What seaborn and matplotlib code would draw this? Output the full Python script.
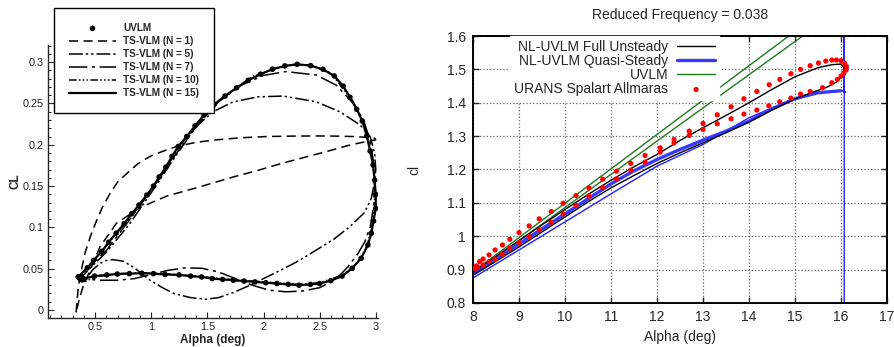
import matplotlib
matplotlib.use("Agg")
import numpy as np
import pandas as pd
import matplotlib.pyplot as plt
from matplotlib.ticker import MultipleLocator, FuncFormatter
import seaborn as sns

# ------------------------------------------------------------
# left panel : CL vs alpha, UVLM vs TS-VLM harmonics
# ------------------------------------------------------------
uvlm_a = [0.35, 0.43, 0.485, 0.56, 0.62, 0.687, 0.758, 0.826, 0.89, 0.96, 1.02, 1.07,
          1.13, 1.185, 1.24, 1.316, 1.39, 1.47, 1.56, 1.657, 1.76, 1.864, 1.974, 2.08,
          2.19, 2.30, 2.42, 2.53, 2.63, 2.71, 2.77, 2.83, 2.88, 2.92, 2.95, 2.976, 2.99,
          3.0, 3.0, 2.98, 2.96, 2.93, 2.87, 2.79, 2.70, 2.60, 2.50, 2.418, 2.316, 2.22,
          2.12, 2.02, 1.924, 1.826, 1.731, 1.636, 1.544, 1.449, 1.351, 1.247, 1.123,
          1.019, 0.915, 0.805, 0.698, 0.604, 0.494, 0.396, 0.35]
uvlm_cl = [0.040, 0.051, 0.060, 0.071, 0.082, 0.093, 0.1045, 0.1166, 0.127, 0.139, 0.150,
           0.161, 0.173, 0.186, 0.198, 0.210, 0.223, 0.236, 0.249, 0.259, 0.269, 0.278,
           0.2855, 0.2915, 0.2955, 0.2975, 0.2958, 0.2914, 0.2833, 0.271, 0.2575, 0.243,
           0.2288, 0.211, 0.1925, 0.1755, 0.157, 0.140, 0.123, 0.1077, 0.0928, 0.0787,
           0.0626, 0.0505, 0.041, 0.0355, 0.032, 0.031, 0.030, 0.031, 0.032, 0.033, 0.034,
           0.035, 0.036, 0.037, 0.038, 0.040, 0.041, 0.0425, 0.043, 0.044, 0.0445, 0.044,
           0.0435, 0.0425, 0.041, 0.038, 0.040]

n1_a = [0.33, 0.35, 0.38, 0.41, 0.46, 0.515, 0.57, 0.633, 0.70, 0.78, 0.88, 0.99, 1.10,
        1.227, 1.40, 1.58, 1.80, 2.03, 2.25, 2.47, 2.65, 2.80, 2.92, 2.99, 3.0, 2.90,
        2.75, 2.62, 2.40, 2.175, 1.95, 1.73, 1.43, 1.14, 0.90, 0.69, 0.545, 0.455,
        0.396, 0.36, 0.33]
n1_cl = [-0.003, 0.028, 0.050, 0.069, 0.090, 0.109, 0.126, 0.141, 0.155, 0.165, 0.177,
         0.186, 0.192, 0.198, 0.203, 0.206, 0.2085, 0.210, 0.2105, 0.2107, 0.2105, 0.210,
         0.209, 0.208, 0.206, 0.2035, 0.199, 0.194, 0.186, 0.178, 0.169, 0.161, 0.149,
         0.138, 0.124, 0.105, 0.077, 0.048, 0.030, 0.014, -0.003]

n5_a = [0.35, 0.45, 0.60, 0.80, 1.0, 1.2, 1.4, 1.55, 1.73, 1.95, 2.175, 2.47, 2.68, 2.86,
        2.95, 2.99, 3.0, 2.99, 2.96, 2.90, 2.77, 2.62, 2.47, 2.32, 2.18, 2.03, 1.88, 1.73,
        1.60, 1.49, 1.35, 1.20, 1.10, 0.99, 0.84, 0.75, 0.66, 0.60, 0.545, 0.48, 0.43,
        0.38, 0.35]
n5_cl = [0.035, 0.050, 0.070, 0.103, 0.142, 0.183, 0.222, 0.240, 0.252, 0.258, 0.259,
         0.252, 0.240, 0.224, 0.210, 0.190, 0.170, 0.155, 0.135, 0.118, 0.101, 0.085,
         0.0726, 0.060, 0.050, 0.040, 0.030, 0.021, 0.015, 0.013, 0.015, 0.020, 0.027,
         0.036, 0.052, 0.059, 0.061, 0.060, 0.0565, 0.049, 0.040, 0.036, 0.035]

n7_a = [0.35, 0.45, 0.60, 0.80, 1.0, 1.2, 1.4, 1.6, 1.8, 2.0, 2.2, 2.47, 2.65, 2.80, 2.89,
        2.95, 2.985, 2.99, 2.98, 2.95, 2.90, 2.84, 2.75, 2.68, 2.60, 2.50, 2.35, 2.20,
        2.05, 1.90, 1.75, 1.60, 1.45, 1.30, 1.15, 1.0, 0.85, 0.70, 0.55, 0.45, 0.35]
n7_cl = [0.040, 0.053, 0.072, 0.108, 0.145, 0.185, 0.222, 0.252, 0.272, 0.284, 0.2886,
         0.2845, 0.272, 0.250, 0.230, 0.205, 0.175, 0.150, 0.125, 0.100, 0.082, 0.068,
         0.052, 0.042, 0.034, 0.027, 0.023, 0.022, 0.024, 0.030, 0.038, 0.046, 0.0505,
         0.051, 0.048, 0.043, 0.038, 0.036, 0.036, 0.037, 0.040]

n10_a = [0.35, 0.40, 0.50, 0.70, 1.0, 1.3, 1.6, 1.9, 2.2, 2.4, 2.6, 2.8, 2.9, 2.96, 2.99,
         2.99, 2.96, 2.90, 2.80, 2.70, 2.50, 2.30, 2.0, 1.7, 1.4, 1.1, 0.9, 0.7, 0.5,
         0.42, 0.38, 0.35]
n10_cl = [0.036, 0.045, 0.062, 0.094, 0.145, 0.207, 0.253, 0.283, 0.296, 0.2965, 0.287,
          0.252, 0.225, 0.190, 0.155, 0.125, 0.095, 0.070, 0.052, 0.042, 0.033, 0.031,
          0.034, 0.037, 0.041, 0.044, 0.045, 0.044, 0.040, 0.035, 0.034, 0.036]

# ------------------------------------------------------------
# right panel : cl vs alpha, reduced frequency 0.038
# ------------------------------------------------------------
full_a = [8.0, 8.5, 9.0, 9.5, 10.0, 10.5, 11.0, 11.5, 12.0, 12.5, 13.0, 13.5, 14.0, 14.5,
          15.0, 15.5, 15.8, 16.0, 16.07, 16.06, 16.0, 15.9, 15.7, 15.4, 15.0, 14.5, 14.0,
          13.5, 13.0, 12.5, 12.0, 11.5, 11.0, 10.5, 10.0, 9.5, 9.0, 8.5, 8.0]
full_cl = [0.893, 0.940, 0.987, 1.034, 1.080, 1.125, 1.168, 1.208, 1.245, 1.287, 1.325,
           1.362, 1.400, 1.440, 1.478, 1.505, 1.514, 1.516, 1.505, 1.490, 1.475, 1.462,
           1.447, 1.432, 1.412, 1.378, 1.342, 1.310, 1.280, 1.250, 1.218, 1.182, 1.145,
           1.103, 1.058, 1.013, 0.968, 0.925, 0.883]

qs_thin_a = [8.0, 9.0, 10.0, 11.0, 12.0, 13.0, 14.0, 14.7, 15.2, 15.6, 16.0, 16.1, 16.07,
             16.07, 16.07]
qs_thin_cl = [0.875, 0.959, 1.043, 1.127, 1.210, 1.275, 1.355, 1.396, 1.422, 1.432, 1.436,
              1.432, 1.432, 1.700, 0.700]
qs_thick_a = [8.0, 8.5, 9.0, 9.5, 10.0, 10.5, 11.0, 11.5, 12.0, 12.5, 13.0, 13.5, 14.0,
              14.5, 15.0, 15.5, 16.0]
qs_thick_cl = [0.888, 0.932, 0.977, 1.022, 1.067, 1.112, 1.157, 1.196, 1.230, 1.260, 1.288,
               1.315, 1.345, 1.382, 1.412, 1.430, 1.436]

lin_a = [8.0, 16.0, 16.0, 8.0]
lin_cl = [0.887, 1.683, 1.717, 0.893]

urans_a = [8.07, 8.14, 8.22, 8.35, 8.48, 8.64, 8.80, 9.00, 9.22, 9.44, 9.70, 9.96, 10.24,
           10.52, 10.82, 11.12, 11.43, 11.74, 12.07, 12.37, 12.70, 13.00, 13.31, 13.61,
           13.89, 14.17, 14.44, 14.67, 14.91, 15.12, 15.33, 15.51, 15.67, 15.80, 15.90,
           16.00, 16.08, 16.12, 16.11, 16.06, 16.00, 15.92, 15.80, 15.60, 15.33, 15.12,
           14.91, 14.67, 14.43, 14.17, 13.89, 13.61, 13.31, 13.00, 12.70, 12.37, 12.07,
           11.74, 11.43, 11.12, 10.82, 10.52, 10.24, 9.96, 9.70, 9.44, 9.22, 9.00, 8.80,
           8.64, 8.48, 8.35, 8.22, 8.10, 8.04]
urans_cl = [0.911, 0.924, 0.932, 0.944, 0.959, 0.974, 0.991, 1.011, 1.031, 1.052, 1.074,
            1.099, 1.122, 1.145, 1.171, 1.195, 1.218, 1.242, 1.265, 1.290, 1.315, 1.338,
            1.364, 1.388, 1.412, 1.434, 1.454, 1.470, 1.487, 1.500, 1.511, 1.519, 1.525,
            1.528, 1.528, 1.526, 1.518, 1.508, 1.498, 1.488, 1.480, 1.470, 1.460, 1.445,
            1.434, 1.426, 1.414, 1.403, 1.391, 1.378, 1.366, 1.352, 1.337, 1.320, 1.302,
            1.280, 1.252, 1.222, 1.198, 1.172, 1.146, 1.120, 1.092, 1.067, 1.042, 1.019,
            0.999, 0.981, 0.964, 0.946, 0.932, 0.924, 0.914, 0.908, 0.903]


def df(a, c):
    return pd.DataFrame({"alpha": a, "cl": c})


sns.set_style("ticks")
plt.rcParams["font.family"] = ["Liberation Sans", "DejaVu Sans"]

fig = plt.figure(figsize=(8.94, 3.47), dpi=100)
axL = fig.add_axes([48 / 894, 29 / 347, 330 / 894, 273 / 347])
axR = fig.add_axes([473 / 894, 44 / 347, 414 / 894, 267 / 347])

# ---------------- left panel ----------------
styles = [
    (n1_a, n1_cl, (0, (6, 3.5)), 1.1, "TS-VLM (N = 1)"),
    (n5_a, n5_cl, (0, (9, 2, 1.5, 2, 1.5, 2)), 1.1, "TS-VLM (N = 5)"),
    (n7_a, n7_cl, (0, (12, 3, 2, 3)), 1.1, "TS-VLM (N = 7)"),
    (n10_a, n10_cl, (0, (5, 1.5, 1, 1.5, 1, 1.5, 1, 1.5)), 1.1, "TS-VLM (N = 10)"),
    (uvlm_a, uvlm_cl, "-", 1.6, "TS-VLM (N = 15)"),
]
for a, c, ls, lw, lab in styles:
    sns.lineplot(data=df(a, c), x="alpha", y="cl", sort=False, estimator=None,
                 color="k", linestyle=ls, lw=lw, label=lab, ax=axL)
sns.scatterplot(data=df(uvlm_a, uvlm_cl), x="alpha", y="cl", s=16, color="k",
                edgecolor="none", label="UVLM", zorder=5, ax=axL)

axL.set_xlim(0.08, 3.02)
axL.set_ylim(-0.0097, 0.3208)
axL.xaxis.set_major_locator(MultipleLocator(0.5))
axL.xaxis.set_minor_locator(MultipleLocator(0.1))
axL.yaxis.set_major_locator(MultipleLocator(0.05))
axL.yaxis.set_minor_locator(MultipleLocator(0.01))
fmt = FuncFormatter(lambda v, p: f"{v:g}")
axL.xaxis.set_major_formatter(fmt)
axL.yaxis.set_major_formatter(fmt)
axL.tick_params(which="major", direction="in", length=4, width=0.8, labelsize=7.8,
                pad=3, labelcolor="#222222")
axL.tick_params(which="minor", direction="in", length=2.3, width=0.7)
for s in ["top", "right"]:
    axL.spines[s].set_visible(False)
for s in ["left", "bottom"]:
    axL.spines[s].set_linewidth(1.0)
axL.set_xlabel("Alpha (deg)", fontsize=8.5, fontweight="bold", labelpad=1)
axL.set_ylabel("CL", fontsize=8.5, fontweight="bold", labelpad=1)

h, l = axL.get_legend_handles_labels()
order = [l.index(x) for x in ["UVLM", "TS-VLM (N = 1)", "TS-VLM (N = 5)",
                              "TS-VLM (N = 7)", "TS-VLM (N = 10)", "TS-VLM (N = 15)"]]
legL = axL.legend([h[i] for i in order], [l[i] for i in order], loc="upper left",
                  bbox_to_anchor=(54 / 894, 1 - 8 / 347), bbox_transform=fig.transFigure,
                  borderaxespad=0, fancybox=False, framealpha=1, edgecolor="k",
                  prop={"size": 7.2, "weight": "bold"}, handlelength=4.7,
                  handletextpad=0.7, labelspacing=0.3, borderpad=1.5)
legL.get_frame().set_linewidth(1.0)

# ---------------- right panel ----------------
sns.lineplot(data=df(lin_a, lin_cl), x="alpha", y="cl", sort=False, estimator=None,
             color="#1f7a1f", lw=1.0, label="UVLM", ax=axR)
sns.lineplot(data=df(qs_thin_a, qs_thin_cl), x="alpha", y="cl", sort=False, estimator=None,
             color="#2020ff", lw=1.0, ax=axR)
sns.lineplot(data=df(qs_thick_a, qs_thick_cl), x="alpha", y="cl", sort=False, estimator=None,
             color="#3838ff", lw=2.4, label="NL-UVLM Quasi-Steady", ax=axR)
sns.lineplot(data=df(full_a, full_cl), x="alpha", y="cl", sort=False, estimator=None,
             color="k", lw=1.0, label="NL-UVLM Full Unsteady", ax=axR)
sns.scatterplot(data=df(urans_a, urans_cl), x="alpha", y="cl", s=14, color="#ff0000",
                edgecolor="none", label="URANS Spalart Allmaras", zorder=5, ax=axR)

axR.set_xlim(8, 17)
axR.set_ylim(0.8, 1.6)
axR.xaxis.set_major_locator(MultipleLocator(1))
axR.yaxis.set_major_locator(MultipleLocator(0.1))
axR.xaxis.set_major_formatter(fmt)
axR.yaxis.set_major_formatter(fmt)
axR.grid(True, linestyle=":", color="#666666", lw=0.9)
axR.set_axisbelow(True)
axR.tick_params(direction="in", top=True, right=True, length=4, width=1.0,
                labelsize=10, pad=5)
for s in axR.spines.values():
    s.set_linewidth(1.4)
    s.set_color("k")
axR.set_xlabel("Alpha (deg)", fontsize=10, labelpad=4)
axR.set_ylabel("cl", fontsize=10, labelpad=18)
axR.set_title("Reduced Frequency = 0.038", fontsize=10, pad=12)

h, l = axR.get_legend_handles_labels()
order = [l.index(x) for x in ["NL-UVLM Full Unsteady", "NL-UVLM Quasi-Steady", "UVLM",
                              "URANS Spalart Allmaras"]]
legR = axR.legend([h[i] for i in order], [l[i] for i in order], loc="upper right",
                  bbox_to_anchor=((719 - 473) / 414, 1.0), borderaxespad=0,
                  markerfirst=False, fancybox=False, framealpha=1, edgecolor="white",
                  facecolor="white", fontsize=10, handlelength=2.7, handletextpad=0.65,
                  labelspacing=0.0, borderpad=0.3)

fig.savefig("out.png", dpi=100)
